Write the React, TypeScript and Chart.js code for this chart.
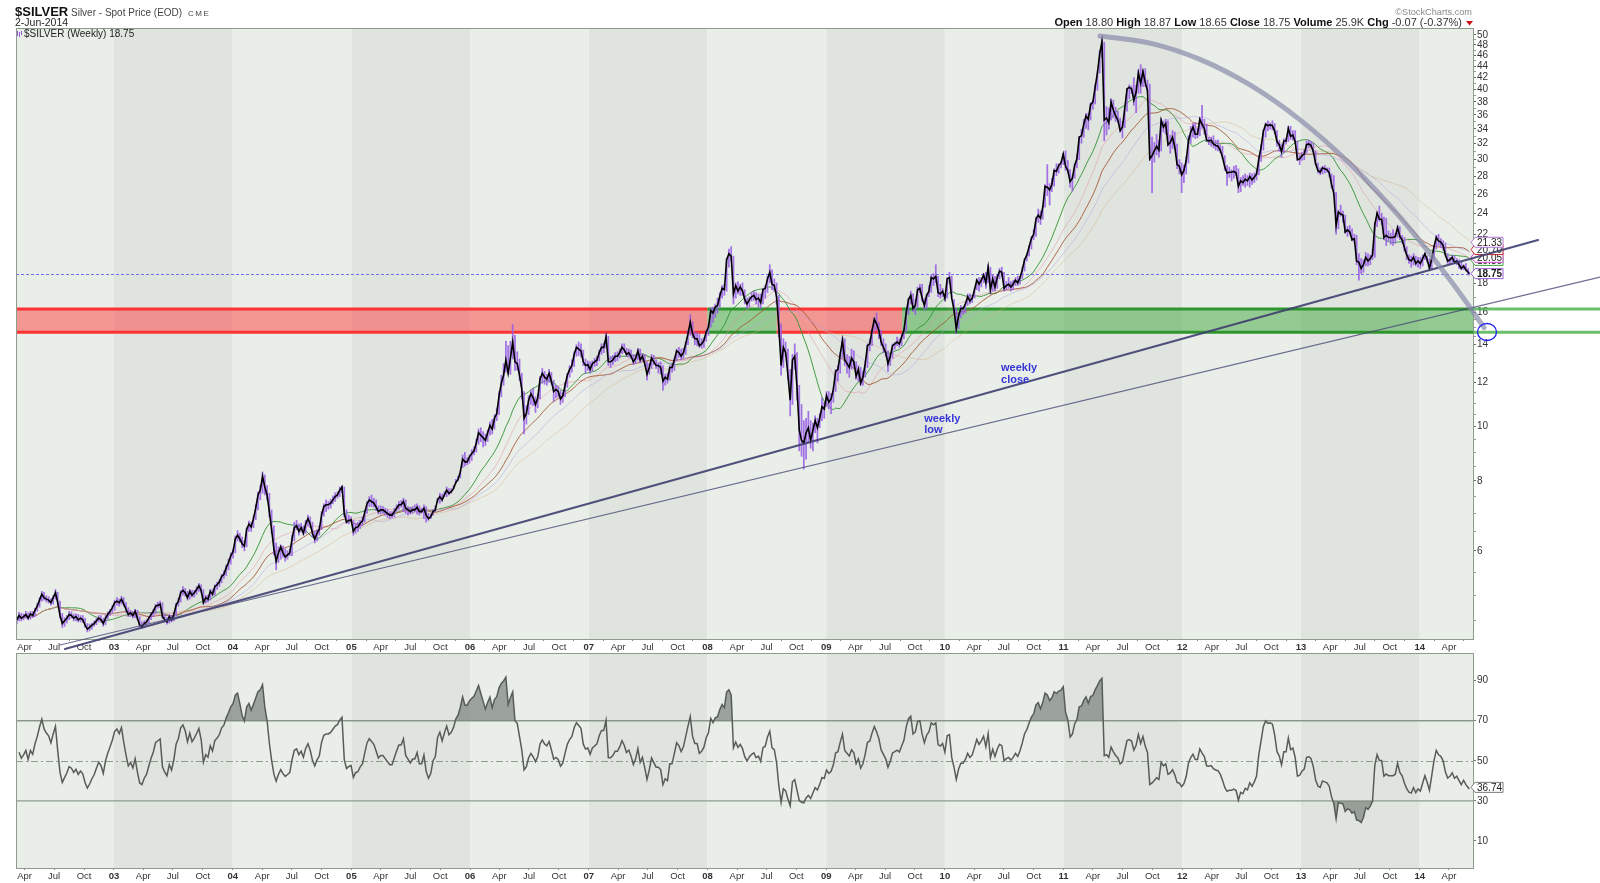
import React, { useEffect, useRef } from 'react';
import { Chart, registerables } from 'chart.js';
Chart.register(...registerables);

// ---------------- DATA (weekly bars, first week ending 8-Mar-2002) ----------------
const firstWeekEnding = '2002-03-08';
const lastBarDate = '2014-06-02';

const close2002 = [4.52,4.60,4.55,4.58, 4.62,4.55,4.63,4.60, 4.70,4.78,4.90,5.02,4.95, 4.92,4.90,4.85,4.95, 5.05,4.85,4.60,4.45, 4.50,4.55,4.62,4.60,4.55, 4.58,4.52,4.55,4.52, 4.42,4.35,4.38,4.42, 4.45,4.50,4.55,4.52,4.45, 4.55,4.62,4.68,4.75];
const high2002 = [4.58,4.66,4.64,4.63, 4.68,4.65,4.68,4.68, 4.74,4.84,4.95,5.08,5.06, 4.99,4.97,4.93,4.99, 5.12,5.06,4.88,4.64, 4.56,4.60,4.68,4.67,4.63, 4.63,4.62,4.60,4.60, 4.55,4.45,4.44,4.46, 4.50,4.55,4.60,4.60,4.55, 4.60,4.67,4.72,4.80];
const low2002 = [4.45,4.50,4.50,4.52, 4.55,4.52,4.53,4.56, 4.58,4.68,4.76,4.88,4.90, 4.86,4.84,4.80,4.82, 4.92,4.80,4.55,4.38, 4.40,4.46,4.52,4.55,4.50, 4.50,4.48,4.48,4.47, 4.38,4.30,4.32,4.35, 4.40,4.43,4.48,4.47,4.40, 4.43,4.53,4.60,4.65];

const close2003 = [4.85,4.88,4.85,4.92,4.82, 4.72,4.62,4.65,4.60, 4.68,4.55,4.42,4.40, 4.45,4.48,4.55,4.62, 4.68,4.78,4.80,4.82,4.58, 4.52,4.48,4.58,4.52, 4.62,4.80,4.88,5.05, 5.10,5.05,4.95,5.08,5.00, 5.05,5.12,5.20,5.10, 4.85,4.95,4.92,5.08,5.02, 5.18,5.22,5.28,5.40, 5.45,5.60,5.72,5.88];
const high2003 = [4.90,4.95,4.92,4.98,4.95, 4.85,4.75,4.70,4.68, 4.72,4.70,4.58,4.48, 4.50,4.52,4.58,4.66, 4.72,4.82,4.86,4.88,4.85, 4.62,4.56,4.62,4.60, 4.66,4.84,4.94,5.10, 5.18,5.14,5.08,5.12,5.10, 5.10,5.18,5.25,5.22, 5.12,5.00,5.00,5.12,5.12, 5.22,5.28,5.34,5.45, 5.52,5.66,5.80,5.95];
const low2003 = [4.70,4.80,4.78,4.82,4.78, 4.66,4.58,4.58,4.55, 4.56,4.52,4.38,4.36, 4.38,4.42,4.46,4.52, 4.58,4.64,4.74,4.75,4.55, 4.48,4.44,4.46,4.48, 4.50,4.60,4.78,4.86, 5.00,4.98,4.90,4.92,4.96, 4.96,5.02,5.08,5.05, 4.82,4.84,4.86,4.90,4.98, 5.00,5.12,5.18,5.26, 5.36,5.42,5.55,5.68];

const close2004 = [5.98,6.30,6.40,6.30,6.18, 6.12,6.55,6.70,6.62, 6.85,7.15,7.55,7.70, 8.15,7.80,7.55,7.05,6.55, 6.05,5.75,5.95,6.10, 5.95,5.85,5.90,5.95, 6.30,6.60,6.65,6.50,6.60, 6.45,6.70,6.85,6.70, 6.45,6.30,6.45,6.55, 6.95,7.20,7.25,7.25,7.30, 7.40,7.50,7.55,7.70, 7.80,7.00,6.75,6.80,6.82];
const high2004 = [6.05,6.38,6.52,6.45,6.35, 6.25,6.60,6.78,6.75, 6.92,7.25,7.65,7.85, 8.30,8.20,7.85,7.60,7.10, 6.65,6.20,6.10,6.15, 6.12,6.05,6.00,6.05, 6.40,6.75,6.80,6.70,6.72, 6.65,6.80,6.95,6.90, 6.75,6.50,6.55,6.65, 7.05,7.28,7.40,7.35,7.42, 7.52,7.62,7.65,7.80, 7.85,7.80,7.10,6.95,6.90];
const low2004 = [5.82,5.95,6.25,6.22,6.08, 6.00,6.10,6.50,6.50, 6.60,6.82,7.10,7.40, 7.60,7.55,7.40,6.90,6.45, 5.90,5.55,5.72,5.80, 5.85,5.75,5.80,5.88, 5.88,6.25,6.55,6.40,6.48, 6.40,6.45,6.65,6.60, 6.35,6.20,6.25,6.40, 6.55,6.92,7.05,7.12,7.15, 7.28,7.35,7.45,7.50, 7.62,6.90,6.72,6.70,6.75];

const close2005 = [6.50,6.60,6.62,6.72, 6.78,7.02,7.28,7.40, 7.35,7.30,7.18,7.05, 7.10,7.10,7.05,7.00,6.95, 6.95,7.05,7.15,7.25, 7.25,7.35,7.15,7.10, 7.05,7.10,7.10,7.18,7.05, 7.05,7.15,6.95,6.85, 6.90,7.05,7.10,7.40,7.50, 7.40,7.55,7.70,7.60, 7.65,7.75,7.95,8.05, 8.30,8.75,8.65,8.65,8.83];
const high2005 = [6.80,6.72,6.75,6.80, 6.90,7.10,7.35,7.50, 7.55,7.45,7.40,7.22, 7.22,7.20,7.15,7.12,7.05, 7.05,7.15,7.25,7.35, 7.38,7.45,7.40,7.20, 7.18,7.20,7.25,7.28,7.22, 7.15,7.25,7.20,7.00, 6.98,7.10,7.22,7.45,7.60, 7.58,7.65,7.80,7.75, 7.75,7.85,8.05,8.15, 8.35,8.90,9.00,8.80,8.90];
const low2005 = [6.40,6.45,6.50,6.58, 6.65,6.75,7.00,7.20, 7.20,7.18,7.08,6.98, 6.98,7.00,6.95,6.88,6.85, 6.88,6.90,7.05,7.12, 7.18,7.05,7.00,6.95, 6.98,7.00,7.05,6.98,6.95, 7.00,6.85,6.75,6.80, 6.85,6.95,7.05,7.32,7.30, 7.35,7.50,7.50,7.55, 7.60,7.75,7.90,8.00, 8.10,8.45,8.50,8.55,8.60];

const close2006 = [8.95,9.05,9.35,9.75, 9.65,9.55,9.45,9.75, 10.05,9.90,10.35,10.55,11.35, 11.95,12.35,13.15,12.45, 13.25,14.15,13.05,12.95, 12.35,11.65,10.35,10.55,11.15, 11.45,11.25,10.95,11.25, 12.15,12.45,12.25,12.15, 12.45,12.05,11.55,11.65,11.55, 11.20,11.35,11.85,12.35, 12.65,12.85,13.45,13.85, 13.75,13.65,13.05,12.85,12.90];
const high2006 = [9.10,9.20,9.50,9.90, 9.95,9.80,9.70,9.85, 10.20,10.30,10.50,10.80,11.55, 12.35,12.95,14.20,13.95, 14.20,15.20,14.55,13.60, 13.20,12.45,11.55,10.90,11.35, 11.60,11.70,11.30,11.40, 12.30,12.70,12.55,12.40, 12.65,12.50,12.10,11.85,11.80, 11.60,11.50,12.00,12.45, 12.85,13.15,13.60,14.00, 14.15,14.05,13.70,13.20,13.10];
const low2006 = [8.70,8.90,9.00,9.30, 9.40,9.20,9.25,9.40, 9.65,9.70,9.90,10.25,10.50, 11.30,11.85,12.50,12.40, 12.40,13.20,12.60,12.60, 12.10,11.20,9.70,10.10,10.50, 10.95,10.90,10.60,10.80, 11.20,11.95,11.90,11.85, 12.00,11.90,11.10,11.25,11.30, 10.95,11.05,11.30,11.75, 12.25,12.50,12.80,13.35, 13.40,13.30,12.85,12.45,12.60];

const close2007 = [12.65,12.95,13.05,13.15, 13.55,13.85,13.85,14.45, 13.05,13.05,13.15,13.35,13.35, 13.55,13.85,13.70,13.45, 13.55,13.35,13.05,13.25, 13.65,13.15,13.35,12.95,12.40, 12.75,13.25,13.05,12.85, 12.85,12.75,12.05,12.25,12.15, 12.75,12.75,13.15,13.65, 13.55,13.35,13.55,14.05, 14.65,15.35,14.65,14.35,14.35, 13.95,14.05,14.25,14.75];
const high2007 = [13.05,13.10,13.25,13.35, 13.70,14.05,14.10,14.65, 14.50,13.35,13.40,13.55,13.60, 13.75,14.05,14.05,13.80, 13.75,13.70,13.45,13.40, 13.80,13.75,13.50,13.45,13.05, 12.95,13.45,13.40,13.15, 13.00,13.05,12.85,12.40,12.45, 12.85,12.95,13.25,13.75, 13.85,13.75,13.80,14.15, 14.85,15.85,15.40,14.75,14.70, 14.60,14.35,14.40,14.85];
const low2007 = [12.45,12.55,12.80,12.85, 13.10,13.45,13.55,13.80, 12.85,12.75,12.90,13.05,13.10, 13.25,13.50,13.55,13.35, 13.30,13.20,12.90,12.95, 13.15,13.00,13.10,12.85,12.10, 12.40,12.70,12.90,12.70, 12.45,12.40,11.60,11.85,11.95, 12.10,12.50,12.60,13.10, 13.30,13.15,13.25,13.45, 14.00,14.55,14.40,14.00,13.95, 13.85,13.80,13.85,14.20];

const close2008 = [15.05,16.10,15.95,16.35, 16.45,17.10,17.65,17.55,19.85, 20.35,20.15,17.25,17.85, 17.45,17.75,17.45,16.85, 16.55,16.85,17.05,17.15,16.85, 16.95,16.65,17.55,17.65, 18.35,18.85,17.95,17.85, 17.05,15.05,12.85,13.85,13.55, 12.35,11.15,13.15,13.35, 11.75,9.85,9.45,9.35,9.75, 9.95,9.45,9.85,10.25, 9.95,10.35,10.85,10.75];
const high2008 = [15.25,16.30,16.35,16.55, 16.95,17.35,17.85,17.95,19.95, 20.75,20.95,20.15,18.05, 18.15,17.95,18.05,17.55, 16.95,17.05,17.35,17.45,17.35, 17.25,17.25,17.65,17.85, 18.55,19.45,19.05,18.35, 18.05,17.15,15.25,14.35,14.15, 13.75,12.65,13.45,14.05, 13.55,11.85,10.95,10.25,10.35, 10.65,10.25,10.15,10.45, 10.35,10.55,11.25,11.05];
const low2008 = [14.55,15.05,15.35,15.65, 15.95,16.35,16.95,17.15,17.45, 19.25,19.75,16.55,16.95, 17.25,17.15,17.15,16.55, 16.25,16.35,16.75,16.80,16.55, 16.35,16.25,16.55,16.95, 17.35,18.05,17.55,17.45, 16.55,14.45,12.35,12.75,13.35, 12.15,10.45,10.95,12.65, 11.15,9.05,8.85,8.40,8.75, 9.35,9.15,9.05,9.75, 9.35,9.95,10.25,10.35];

const close2009 = [11.35,11.05,11.20,11.65,12.55, 12.65,13.45,14.25,13.15, 12.95,12.75,13.25,13.05, 12.30,12.65,11.95,12.25, 12.95,13.95,14.05,14.85,15.55, 15.25,14.85,14.15,13.85, 13.55,12.95,13.35,13.95,14.05, 14.15,14.05,14.45,14.85, 15.95,16.85,17.15,16.25, 16.45,17.55,17.65,16.95,16.45, 17.15,17.45,18.45,18.35, 18.55,17.35,17.25,17.45];
const high2009 = [11.55,11.55,11.45,11.75,12.65, 12.85,13.55,14.45,14.35, 13.45,13.35,13.75,13.65, 13.05,12.85,12.75,12.55, 13.05,14.05,14.35,14.95,15.65, 15.95,15.35,14.85,14.35, 14.05,13.65,13.45,14.05,14.15, 14.45,14.35,14.65,14.95, 16.15,16.95,17.45,17.25, 16.85,17.75,17.95,17.95,16.95, 17.25,17.85,18.65,18.75, 19.45,18.55,17.95,17.65];
const low2009 = [10.85,10.75,10.55,11.05,11.55, 12.05,12.45,13.25,12.85, 12.45,12.25,12.65,12.75, 12.15,12.05,11.85,11.85, 12.25,12.75,13.65,13.95,14.75, 14.85,14.35,13.95,13.55, 13.35,12.55,12.85,13.25,13.75, 13.95,13.85,13.95,14.35, 14.75,15.85,16.55,16.05, 15.85,16.35,17.35,16.75,16.15, 16.25,17.05,17.35,17.85, 18.05,17.05,16.95,17.05];

const close2010 = [16.95,18.35,18.45,16.95,16.15, 14.95,15.75,16.25,16.25, 16.55,17.05,16.75,16.95, 17.55,18.25,17.95,18.25,18.65, 18.05,19.25,17.55,18.35, 17.75,18.45,18.95,18.85, 17.65,17.85,17.95,17.75,17.95, 18.25,18.05,18.45,19.05, 19.85,20.25,20.95,21.65, 22.05,23.45,23.85,23.55,24.65, 26.85,26.75,26.45,27.05, 28.65,28.55,29.25,29.55,30.65];
const high2010 = [17.15,18.45,18.85,18.55,16.85, 16.25,15.95,16.45,16.35, 16.65,17.25,17.25,17.15, 17.65,18.35,18.45,18.45,18.75, 18.85,19.45,19.25,18.65, 18.55,18.65,19.15,19.25, 18.85,18.15,18.45,18.15,18.25, 18.45,18.55,18.55,19.25, 19.95,20.35,21.05,21.85, 22.45,23.65,24.45,24.25,24.75, 27.05,29.35,27.15,27.75, 28.85,29.45,29.45,29.75,30.75];
const low2010 = [16.75,16.95,18.05,16.95,15.95, 14.65,14.95,15.65,15.85, 15.95,16.45,16.55,16.65, 16.95,17.55,17.45,17.75,18.05, 17.65,18.05,17.25,17.45, 17.45,17.65,18.35,18.55, 17.45,17.55,17.65,17.45,17.55, 17.85,17.85,17.95,18.35, 18.95,19.75,20.15,20.75, 21.55,21.85,23.15,22.95,23.45, 24.65,25.85,24.85,26.25, 26.85,28.05,28.35,28.95,29.35];

const close2011 = [29.15,28.65,27.35,27.75, 29.25,30.05,32.85,33.05, 34.65,35.85,35.35,37.55, 37.95,40.35,42.75,46.25,48.65, 35.25,35.55,34.85,37.95, 36.75,35.85,35.25,33.75, 34.25,36.95,40.05,40.35,40.05, 38.25,39.55,42.75,40.95, 43.05,41.15,39.75,30.05,30.45, 31.05,31.65,31.15,35.25, 34.25,34.75,31.85,32.15, 32.85,31.55,29.35,29.15,28.15];
const high2011 = [31.05,29.85,28.75,28.05, 29.45,30.65,32.95,33.95, 35.35,36.25,36.25,37.85, 38.15,40.85,43.05,46.85,49.75, 48.55,37.25,37.05,38.45, 38.25,37.15,36.55,35.55, 35.05,37.05,40.15,40.75,40.55, 41.95,40.65,43.35,44.25, 43.35,43.55,41.55,40.85,32.85, 32.15,33.25,32.45,35.45, 35.05,35.35,35.15,33.15, 33.75,33.55,31.95,29.95,29.55];
const low2011 = [28.65,28.35,26.75,26.35, 27.75,28.95,29.95,32.05, 32.85,34.05,33.85,35.25, 36.85,37.65,39.85,42.75,45.55, 32.35,33.15,33.95,35.25, 35.55,35.05,34.85,33.55, 32.75,34.15,36.55,38.45,39.35, 37.45,36.35,39.35,39.35, 40.45,40.45,39.45,29.85,26.15, 29.65,30.55,30.25,31.05, 33.55,33.25,31.65,30.75, 31.35,31.15,28.85,28.25,26.15];

const close2012 = [28.65,29.85,32.35,33.55, 34.25,33.25,33.25,35.35, 34.65,34.05,32.45,32.35,32.45, 31.95,31.75,31.65,31.15, 30.25,29.05,28.35,28.45, 28.45,28.55,28.35,26.85,27.45, 27.25,27.65,27.45,27.95, 27.55,27.85,28.25,30.05,31.55, 33.65,34.65,34.45,34.55, 34.45,33.65,32.25,31.85, 30.95,32.35,32.35,34.05,32.95, 33.15,32.25,29.95,30.05];
const high2012 = [29.25,30.35,33.05,34.35, 34.75,34.85,34.05,35.65, 37.45,35.35,34.65,32.85,32.85, 33.05,32.45,32.45,31.85, 31.65,30.45,29.25,29.05, 28.75,29.15,29.25,28.85,27.85, 28.05,28.25,28.05,28.35, 28.25,28.35,28.65,30.35,31.85, 33.85,34.85,35.15,34.85, 35.15,34.75,33.75,32.45, 31.95,32.65,32.65,34.35,34.35, 33.75,33.75,32.35,30.55];
const low2012 = [27.25,28.25,29.55,32.05, 32.85,32.65,32.75,33.05, 34.05,33.25,32.25,31.85,31.65, 31.45,31.15,31.05,30.85, 30.05,28.65,26.95,27.85, 27.45,27.75,28.05,26.15,26.25, 26.95,26.75,26.95,26.75, 27.05,27.25,27.55,28.15,29.75, 31.15,32.85,33.75,33.95, 33.85,33.35,31.65,31.05, 30.25,30.85,31.95,32.25,32.55, 32.45,32.05,29.85,29.35];

const close2013 = [30.45,30.65,31.85,31.95, 31.75,30.95,29.45,28.65, 28.45,28.95,28.85,28.75,28.35, 27.05,26.05,22.85,24.15, 23.95,23.85,22.25,22.45,22.25, 21.55,21.65,19.75,19.65, 19.15,19.45,20.05,19.75, 19.95,20.25,22.95,24.05,23.45, 23.45,21.75,21.95,21.75, 21.75,21.75,21.85,22.65, 21.85,21.55,20.85,20.25,19.85, 19.75,20.05,19.55,19.75];
const high2013 = [30.85,31.15,32.35,32.45, 32.25,32.05,31.05,29.55, 28.95,29.15,29.25,28.95,28.95, 28.25,28.05,26.15,24.35, 24.85,24.25,23.85,22.75,22.85, 22.55,22.05,21.95,20.35, 19.95,19.85,20.45,20.35, 20.25,20.75,23.15,24.15,24.75, 24.05,23.65,23.55,22.35, 22.15,22.45,22.15,22.85, 22.75,21.95,21.75,20.95,20.25, 20.15,20.35,20.15,20.05];
const low2013 = [29.85,29.95,30.75,31.45, 31.45,30.75,29.35,28.35, 28.15,28.25,28.35,28.45,27.95, 26.65,25.85,22.05,22.55, 23.75,23.15,22.15,21.85,22.05, 21.45,21.35,19.45,18.25, 18.75,18.85,19.35,19.35, 19.45,19.85,20.05,22.75,23.25, 22.95,21.55,21.05,21.45, 21.15,21.05,21.25,21.75, 21.55,21.25,20.55,19.85,19.55, 19.25,19.45,19.35,19.25];

const close2014 = [19.55,19.95,20.35,19.85,19.15, 19.95,20.95,21.75,21.45, 21.35,21.05,20.25,19.75, 19.85,20.05,19.65,19.75, 19.45,19.15,19.35,19.05,18.85, 18.75];
const high2014 = [20.05,20.25,20.45,20.15,19.95, 20.15,21.05,21.95,22.05, 21.65,21.45,21.25,20.35, 20.05,20.25,20.15,19.95, 19.85,19.65,19.45,19.55,19.15, 18.87];
const low2014 = [19.15,19.35,19.85,19.65,19.05, 19.05,19.85,20.75,21.05, 20.85,20.65,20.15,19.55, 19.45,19.65,19.55,19.45, 19.15,19.05,19.05,18.95,18.65, 18.65];

// moving averages shown (weeks) and their right-edge readings
const maPeriods = [65, 50, 40, 30, 20];
const maLabelValues = [19.80, 20.05, 20.70, 21.33];
const maLabelColors = ['#3f9f3f', '#d050d0', '#cc2a2a', '#b07ad8'];

// price axis ticks
const priceTickLabels = [6,8,10,12,14,16,18,20,22,24,26,28,30,32,34,36,38,40,42,44,46,48,50];
const priceMinorTicks = [4.5,5,5.5,6.5,7,7.5,8.5,9,9.5,10.5,11,11.5,12.5,13,13.5,14.5,15,15.5,17,19,21,23,25,27,29,31,33,35,37,39,41,43,45,47,49];
const rsiTickLabels = [10,30,50,70,90];
const quarterMonthNames = ['Jan','Apr','Jul','Oct'];

// support band and its colour by period
const bandLow = 14.73;
const bandHigh = 16.21;
const bandSegments = [
  { from: 2002.0, to: 2008.0, above: false },
  { from: 2008.0, to: 2008.583, above: true },
  { from: 2008.583, to: 2009.64, above: false },
  { from: 2009.64, to: 2015.0, above: true },
];

// trend lines (decimal year, price)
const closeTrend = [{ x: 2002.587, y: 4.008 }, { x: 2014.997, y: 21.53 }];
const lowTrend = [{ x: 2002.545, y: 4.075 }, { x: 2015.519, y: 18.49 }];
const arcPoints = [
  { x: 2011.307, y: 49.79 }, { x: 2011.728, y: 48.36 }, { x: 2012.149, y: 45.23 },
  { x: 2012.570, y: 40.72 }, { x: 2012.992, y: 35.28 }, { x: 2013.413, y: 29.44 },
  { x: 2013.834, y: 23.65 }, { x: 2014.255, y: 18.28 }, { x: 2014.542, y: 15.02 },
];
const targetCircle = { x: 2014.567, y: 14.75 };
const noteTexts = [
  { text: 'weekly', x: 2010.473, y: 12.58 },
  { text: 'close', x: 2010.473, y: 11.95 },
  { text: 'weekly', x: 2009.826, y: 10.18 },
  { text: 'low', x: 2009.826, y: 9.73 },
];

const quote = { open: '18.80', high: '18.87', low: '18.65', close: '18.75', volume: '25.9K', chg: '-0.07', pct: '(-0.37%)' };
const rsiLastLabel = 36.74;

// axis ranges
const X_MIN = 2002.1744;
const X_MAX = 2014.4491;
const Y_MIN = 4.1767;
const Y_MAX = 51.459;
const RSI_MIN = -3.5;
const RSI_MAX = 103.8;

// ---------------- derived ----------------
const closes = [...close2002, ...close2003, ...close2004, ...close2005, ...close2006, ...close2007, ...close2008, ...close2009, ...close2010, ...close2011, ...close2012, ...close2013, ...close2014];
const highs = [...high2002, ...high2003, ...high2004, ...high2005, ...high2006, ...high2007, ...high2008, ...high2009, ...high2010, ...high2011, ...high2012, ...high2013, ...high2014];
const lows = [...low2002, ...low2003, ...low2004, ...low2005, ...low2006, ...low2007, ...low2008, ...low2009, ...low2010, ...low2011, ...low2012, ...low2013, ...low2014];

function toYear(ms: number) {
  const y = new Date(ms).getUTCFullYear();
  const a = Date.UTC(y, 0, 1), b = Date.UTC(y + 1, 0, 1);
  return y + (ms - a) / (b - a);
}
const startMs = Date.parse(firstWeekEnding + 'T00:00:00Z');
const weekX = closes.map((_, i) => i === closes.length - 1 ? toYear(Date.parse(lastBarDate + 'T00:00:00Z')) : toYear(startMs + i * 7 * 86400000));

function sma(vals: number[], n: number) {
  const out: number[] = [];
  let s = 0;
  for (let i = 0; i < vals.length; i++) {
    s += vals[i];
    if (i >= n) s -= vals[i - n];
    out.push(s / Math.min(i + 1, n));
  }
  return out;
}
function rsi(vals: number[], n: number) {
  let seed = 0;
  for (let i = 1; i <= n; i++) seed += Math.abs(vals[i] - vals[i - 1]);
  let ag = seed / n / 2, al = seed / n / 2;
  const out: (number | null)[] = [null];
  for (let i = 1; i < vals.length; i++) {
    const d = vals[i] - vals[i - 1];
    ag = (ag * (n - 1) + Math.max(d, 0)) / n;
    al = (al * (n - 1) + Math.max(-d, 0)) / n;
    out.push(al === 0 ? 100 : 100 - 100 / (1 + ag / al));
  }
  return out;
}

const xTicks: { value: number; label: string; bold: boolean }[] = [];
for (let y = 2002; y <= 2014; y++) {
  for (let q = 0; q < 4; q++) {
    const v = toYear(Date.UTC(y, q * 3, 1));
    if (v >= X_MIN && v <= X_MAX) xTicks.push({ value: v, label: q === 0 ? String(y).slice(2) : quarterMonthNames[q], bold: q === 0 });
  }
}
const priceLabelSet = new Set(priceTickLabels);
const priceTicksAll = [...priceMinorTicks, ...priceTickLabels].sort((a, b) => a - b);

// ---------------- styling ----------------
const FONT = '"Liberation Sans", Arial, Helvetica, sans-serif';
const LIGHT_BG = '#e9efe8';
const DARK_BG = '#dfe5de';
const PANEL_BORDER = '#8d9c8d';
const maColors = ['rgba(215,170,130,0.45)', 'rgba(175,160,225,0.5)', 'rgba(165,80,45,0.85)', 'rgba(230,140,160,0.5)', 'rgba(50,145,50,0.9)'];

Chart.defaults.font.family = FONT;

function zeroPad(s: any) {
  s.paddingTop = 0; s.paddingBottom = 0; s.paddingLeft = 0; s.paddingRight = 0;
}

function xScale(height: number) {
  return {
    type: 'linear', min: X_MIN, max: X_MAX, position: 'bottom', offset: false,
    afterBuildTicks: (s: any) => { s.ticks = xTicks.map(t => ({ value: t.value })); },
    afterFit: (s: any) => { s.height = height; zeroPad(s); },
    ticks: {
      autoSkip: false, maxRotation: 0, minRotation: 0, padding: 1, color: '#333',
      callback: (_v: any, i: number) => (xTicks[i] ? xTicks[i].label : ''),
      font: (c: any) => ({ family: FONT, size: 9.5, weight: xTicks[c.index] && xTicks[c.index].bold ? 'bold' : 'normal' }),
    },
    grid: { drawOnChartArea: false, drawTicks: true, tickLength: 2, color: '#7f8f7f' },
    border: { display: true, color: PANEL_BORDER },
  };
}

function shadeYears(chart: any) {
  const { ctx, chartArea: a, scales: { x } } = chart;
  ctx.save();
  ctx.fillStyle = '#ffffff';
  ctx.fillRect(0, 0, chart.width, chart.height);
  ctx.beginPath();
  ctx.rect(a.left, a.top, a.right - a.left, a.bottom - a.top);
  ctx.clip();
  for (let yr = 2002; yr <= 2014; yr++) {
    const x0 = Math.max(a.left, x.getPixelForValue(yr));
    const x1 = Math.min(a.right, x.getPixelForValue(yr + 1));
    if (x1 <= x0) continue;
    ctx.fillStyle = (yr - 2002) % 2 === 0 ? LIGHT_BG : DARK_BG;
    ctx.fillRect(x0, a.top, x1 - x0, a.bottom - a.top);
  }
  ctx.restore();
}

function panelBorder(chart: any) {
  const { ctx, chartArea: a } = chart;
  ctx.save();
  ctx.strokeStyle = PANEL_BORDER;
  ctx.lineWidth = 1;
  ctx.strokeRect(Math.round(a.left) + 0.5, Math.round(a.top) + 0.5, Math.round(a.right - a.left), Math.round(a.bottom - a.top));
  ctx.restore();
}

function valueBox(ctx: CanvasRenderingContext2D, left: number, cy: number, text: string, border: string, bold: boolean) {
  const h = 10, tip = 4, w = 32;
  ctx.beginPath();
  ctx.moveTo(left, cy);
  ctx.lineTo(left + tip, cy - h / 2);
  ctx.lineTo(left + w, cy - h / 2);
  ctx.lineTo(left + w, cy + h / 2);
  ctx.lineTo(left + tip, cy + h / 2);
  ctx.closePath();
  ctx.fillStyle = '#ffffff';
  ctx.fill();
  ctx.strokeStyle = border;
  ctx.lineWidth = 1;
  ctx.stroke();
  ctx.fillStyle = '#1a1a1a';
  ctx.font = `${bold ? 'bold ' : ''}10px ${FONT}`;
  ctx.textBaseline = 'middle';
  ctx.textAlign = 'left';
  ctx.fillText(text, left + tip + 2, cy + 0.5);
}

function smoothPath(ctx: CanvasRenderingContext2D, pts: number[][]) {
  ctx.moveTo(pts[0][0], pts[0][1]);
  for (let i = 0; i < pts.length - 1; i++) {
    const p0 = pts[i - 1] || pts[i], p1 = pts[i], p2 = pts[i + 1], p3 = pts[i + 2] || pts[i + 1];
    ctx.bezierCurveTo(
      p1[0] + (p2[0] - p0[0]) / 6, p1[1] + (p2[1] - p0[1]) / 6,
      p2[0] - (p3[0] - p1[0]) / 6, p2[1] - (p3[1] - p1[1]) / 6,
      p2[0], p2[1]);
  }
}

const mainPlugin = {
  id: 'mainDeco',
  beforeDraw(chart: any) { shadeYears(chart); },
  beforeDatasetsDraw(chart: any) {
    const { ctx, chartArea: a, scales: { x, y } } = chart;
    ctx.save();
    ctx.beginPath();
    ctx.rect(a.left, a.top, a.right - a.left, a.bottom - a.top);
    ctx.clip();
    const yTop = y.getPixelForValue(bandHigh), yBot = y.getPixelForValue(bandLow);
    for (const s of bandSegments) {
      const x0 = Math.max(a.left, x.getPixelForValue(s.from));
      const x1 = Math.min(a.right, x.getPixelForValue(s.to));
      if (x1 <= x0) continue;
      ctx.fillStyle = s.above ? 'rgba(45,160,45,0.45)' : 'rgba(255,45,45,0.45)';
      ctx.fillRect(x0, yTop, x1 - x0, yBot - yTop);
      ctx.strokeStyle = s.above ? '#2f962f' : '#ff3333';
      ctx.lineWidth = 3;
      ctx.beginPath();
      ctx.moveTo(x0, yTop); ctx.lineTo(x1, yTop);
      ctx.moveTo(x0, yBot); ctx.lineTo(x1, yBot);
      ctx.stroke();
    }
    const yp = Math.round(y.getPixelForValue(closes[closes.length - 1])) + 0.5;
    ctx.strokeStyle = '#6f6ff2';
    ctx.lineWidth = 1;
    ctx.setLineDash([3, 2]);
    ctx.beginPath();
    ctx.moveTo(a.left, yp); ctx.lineTo(a.right, yp);
    ctx.stroke();
    ctx.setLineDash([]);
    ctx.restore();
  },
  afterDatasetsDraw(chart: any) {
    const { ctx, chartArea: a, scales: { x, y } } = chart;
    const px = (v: number) => x.getPixelForValue(v);
    const py = (v: number) => y.getPixelForValue(v);
    ctx.save();
    panelBorder(chart);
    ctx.strokeStyle = 'rgba(70,175,70,0.8)';
    ctx.lineWidth = 3;
    ctx.beginPath();
    ctx.moveTo(a.right, py(bandHigh)); ctx.lineTo(chart.width, py(bandHigh));
    ctx.moveTo(a.right, py(bandLow)); ctx.lineTo(chart.width, py(bandLow));
    ctx.stroke();
    maLabelValues.forEach((v, i) => valueBox(ctx, a.right - 2, py(v), v.toFixed(2), maLabelColors[i], false));
    valueBox(ctx, a.right - 2, py(closes[closes.length - 1]), closes[closes.length - 1].toFixed(2), '#9a62d6', true);
    ctx.lineCap = 'round';
    ctx.strokeStyle = 'rgba(62,62,112,0.9)';
    ctx.lineWidth = 2.2;
    ctx.beginPath();
    ctx.moveTo(px(closeTrend[0].x), py(closeTrend[0].y));
    ctx.lineTo(px(closeTrend[1].x), py(closeTrend[1].y));
    ctx.stroke();
    ctx.strokeStyle = 'rgba(72,72,118,0.8)';
    ctx.lineWidth = 1.2;
    ctx.beginPath();
    ctx.moveTo(px(lowTrend[0].x), py(lowTrend[0].y));
    ctx.lineTo(px(lowTrend[1].x), py(lowTrend[1].y));
    ctx.stroke();
    ctx.strokeStyle = 'rgba(140,140,172,0.72)';
    ctx.lineWidth = 5;
    ctx.beginPath();
    smoothPath(ctx, arcPoints.map(p => [px(p.x), py(p.y)]));
    ctx.stroke();
    ctx.strokeStyle = '#2424ee';
    ctx.lineWidth = 1.3;
    ctx.beginPath();
    ctx.ellipse(px(targetCircle.x), py(targetCircle.y), 9.5, 8.5, 0, 0, Math.PI * 2);
    ctx.stroke();
    ctx.fillStyle = '#3535d8';
    ctx.font = `bold 11px ${FONT}`;
    ctx.textAlign = 'left';
    ctx.textBaseline = 'alphabetic';
    noteTexts.forEach(t => ctx.fillText(t.text, px(t.x), py(t.y)));
    ctx.restore();
  },
  afterDraw(chart: any) {
    const { ctx, chartArea: a } = chart;
    ctx.save();
    ctx.textBaseline = 'alphabetic';
    ctx.textAlign = 'left';
    ctx.fillStyle = '#111';
    ctx.font = `bold 13px ${FONT}`;
    ctx.fillText('$SILVER', 15, 16);
    ctx.fillStyle = '#444';
    ctx.font = `10px ${FONT}`;
    ctx.fillText('Silver - Spot Price (EOD)', 71, 15.5);
    ctx.font = `8px ${FONT}`;
    (ctx as any).letterSpacing = '1.5px';
    ctx.fillText('CME', 188, 15.5);
    (ctx as any).letterSpacing = '0px';
    ctx.fillStyle = '#222';
    ctx.font = `10.5px ${FONT}`;
    ctx.fillText('2-Jun-2014', 15, 26);
    ctx.strokeStyle = '#9a5ad8';
    ctx.lineWidth = 1;
    ctx.beginPath();
    ctx.moveTo(17.5, 31); ctx.lineTo(17.5, 36);
    ctx.moveTo(19.5, 32); ctx.lineTo(19.5, 37);
    ctx.moveTo(21.5, 31); ctx.lineTo(21.5, 35);
    ctx.stroke();
    ctx.fillStyle = '#222';
    ctx.font = `10px ${FONT}`;
    ctx.fillText(`$SILVER (Weekly) ${closes[closes.length - 1].toFixed(2)}`, 24, 37);
    ctx.fillStyle = '#8a8a8a';
    ctx.font = `9.2px ${FONT}`;
    ctx.textAlign = 'right';
    ctx.fillText('\u00A9StockCharts.com', a.right - 1, 15);
    ctx.textAlign = 'left';
    const parts: [string, boolean][] = [
      ['Open', true], [' ' + quote.open + ' ', false], ['High', true], [' ' + quote.high + ' ', false],
      ['Low', true], [' ' + quote.low + ' ', false], ['Close', true], [' ' + quote.close + ' ', false],
      ['Volume', true], [' ' + quote.volume + ' ', false], ['Chg', true], [' ' + quote.chg + ' ' + quote.pct, false],
    ];
    let total = 0;
    parts.forEach(([t, b]) => { ctx.font = `${b ? 'bold ' : ''}11px ${FONT}`; total += ctx.measureText(t).width; });
    let cx = 1462 - total;
    parts.forEach(([t, b]) => {
      ctx.font = `${b ? 'bold ' : ''}11px ${FONT}`;
      ctx.fillStyle = b ? '#111' : '#333';
      ctx.fillText(t, cx, 26);
      cx += ctx.measureText(t).width;
    });
    ctx.fillStyle = '#cc1111';
    ctx.beginPath();
    ctx.moveTo(1466, 21); ctx.lineTo(1473, 21); ctx.lineTo(1469.5, 25.5); ctx.closePath();
    ctx.fill();
    ctx.restore();
  },
};

const rsiPlugin = {
  id: 'rsiDeco',
  beforeDraw(chart: any) { shadeYears(chart); },
  beforeDatasetsDraw(chart: any) {
    const { ctx, chartArea: a, scales: { y } } = chart;
    ctx.save();
    ctx.strokeStyle = '#8d9c8d';
    ctx.lineWidth = 1.4;
    [70, 30].forEach(v => {
      const yy = y.getPixelForValue(v);
      ctx.beginPath(); ctx.moveTo(a.left, yy); ctx.lineTo(a.right, yy); ctx.stroke();
    });
    ctx.lineWidth = 1;
    ctx.setLineDash([7, 3, 2, 3]);
    const y50 = Math.round(y.getPixelForValue(50)) + 0.5;
    ctx.beginPath(); ctx.moveTo(a.left, y50); ctx.lineTo(a.right, y50); ctx.stroke();
    ctx.setLineDash([]);
    ctx.restore();
  },
  afterDraw(chart: any) {
    const { ctx, chartArea: a, scales: { y } } = chart;
    panelBorder(chart);
    ctx.save();
    valueBox(ctx, a.right - 2, y.getPixelForValue(rsiLastLabel), rsiLastLabel.toFixed(2), '#7a7a7a', false);
    ctx.restore();
  },
};

export default function App() {
  const mainRef = useRef<HTMLCanvasElement>(null);
  const rsiRef = useRef<HTMLCanvasElement>(null);

  useEffect(() => {
    const bars = closes.map((c, i) => ({ x: weekX[i], y: [Math.min(lows[i], c), Math.max(highs[i], c)] }));
    const closePts = closes.map((c, i) => ({ x: weekX[i], y: c }));
    const maSets = maPeriods.map((p, k) => {
      const m = sma(closes, p);
      return {
        type: 'line', label: `MA${p}`, data: m.map((v, i) => ({ x: weekX[i], y: v })),
        borderColor: maColors[k], borderWidth: 1, pointRadius: 0, tension: 0, fill: false, order: 10 + k,
      };
    });
    const main = new Chart(mainRef.current as HTMLCanvasElement, {
      type: 'line',
      data: {
        datasets: [
          { type: 'line', label: 'Close', data: closePts, borderColor: '#000000', borderWidth: 1.6, pointRadius: 0, tension: 0, fill: false, order: 0 } as any,
          { type: 'bar', label: 'HL', data: bars, backgroundColor: 'rgba(150,92,228,0.85)', borderWidth: 0, barThickness: 1.1, grouped: false, order: 1 } as any,
          ...maSets,
        ],
      },
      options: {
        responsive: false, animation: false, events: [],
        layout: { padding: { left: 16, top: 28, right: 0, bottom: 0 }, autoPadding: false },
        plugins: { legend: { display: false }, tooltip: { enabled: false }, title: { display: false } },
        scales: {
          x: xScale(13) as any,
          y: {
            type: 'logarithmic', position: 'right', min: Y_MIN, max: Y_MAX,
            afterBuildTicks: (s: any) => { s.ticks = priceTicksAll.map(v => ({ value: v })); },
            afterFit: (s: any) => { s.width = 127; zeroPad(s); },
            ticks: {
              autoSkip: false, padding: 1, color: '#333', font: { family: FONT, size: 10 },
              callback: (v: any) => (priceLabelSet.has(Number(v)) ? String(v) : ''),
            },
            grid: {
              drawOnChartArea: false, drawTicks: true, tickLength: 3,
              tickColor: (c: any) => (c.tick && priceLabelSet.has(c.tick.value) ? '#666' : '#9a9a9a'),
            },
            border: { display: true, color: PANEL_BORDER },
          } as any,
        },
      },
      plugins: [mainPlugin],
    } as any);

    const r = rsi(closes, 14);
    const rsiPts = r.map((v, i) => ({ x: weekX[i], y: v }));
    const RSI_FILL = 'rgba(105,112,105,0.6)';
    const rsiChart = new Chart(rsiRef.current as HTMLCanvasElement, {
      type: 'line',
      data: {
        datasets: [
          { label: 'RSI', data: rsiPts, borderColor: '#575c57', borderWidth: 1.5, pointRadius: 0, tension: 0, fill: false, order: 0 },
          { label: 'ob', data: rsiPts, borderColor: 'rgba(0,0,0,0)', borderWidth: 0, pointRadius: 0, tension: 0, fill: { target: { value: 70 }, above: RSI_FILL, below: 'rgba(0,0,0,0)' }, order: 1 },
          { label: 'os', data: rsiPts, borderColor: 'rgba(0,0,0,0)', borderWidth: 0, pointRadius: 0, tension: 0, fill: { target: { value: 30 }, above: 'rgba(0,0,0,0)', below: RSI_FILL }, order: 2 },
        ] as any,
      },
      options: {
        responsive: false, animation: false, events: [],
        layout: { padding: { left: 16, top: 1, right: 0, bottom: 0 }, autoPadding: false },
        plugins: { legend: { display: false }, tooltip: { enabled: false } },
        scales: {
          x: xScale(15) as any,
          y: {
            type: 'linear', position: 'right', min: RSI_MIN, max: RSI_MAX,
            afterBuildTicks: (s: any) => { s.ticks = rsiTickLabels.map(v => ({ value: v })); },
            afterFit: (s: any) => { s.width = 127; zeroPad(s); },
            ticks: { autoSkip: false, padding: 1, color: '#333', font: { family: FONT, size: 10 }, callback: (v: any) => String(v) },
            grid: { drawOnChartArea: false, drawTicks: true, tickLength: 3, tickColor: '#777' },
            border: { display: true, color: PANEL_BORDER },
          } as any,
        },
      },
      plugins: [rsiPlugin],
    } as any);

    return () => { main.destroy(); rsiChart.destroy(); };
  }, []);

  return (
    <div style={{ position: 'absolute', left: 0, top: 0, width: 1600, height: 883, background: '#ffffff', overflow: 'hidden' }}>
      <canvas ref={mainRef} width={1600} height={652} style={{ position: 'absolute', left: 0, top: 0, width: 1600, height: 652 }} />
      <canvas ref={rsiRef} width={1600} height={231} style={{ position: 'absolute', left: 0, top: 652, width: 1600, height: 231 }} />
    </div>
  );
}
